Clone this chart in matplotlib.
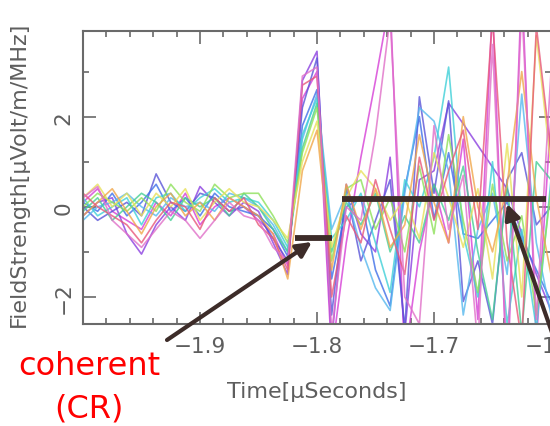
import matplotlib
matplotlib.use("Agg")
import matplotlib.pyplot as plt
from matplotlib.ticker import MultipleLocator, FuncFormatter

plt.rcParams['font.family'] = ['DejaVu Sans']

# sample times in microseconds (12.5 ns sampling)
time_us = [-2.0, -1.9875, -1.975, -1.9625, -1.95, -1.9375, -1.925, -1.9125,
           -1.9, -1.8875, -1.875, -1.8625, -1.85, -1.8375, -1.825, -1.8125,
           -1.8, -1.7875, -1.775, -1.7625, -1.75, -1.7375, -1.725, -1.7125,
           -1.7, -1.6875, -1.675, -1.6625, -1.65, -1.6375, -1.625, -1.6125, -1.6]

# field strength per antenna [uV/m/MHz]
ant_01 = [0.1, 0.4, -0.1, -0.3, -0.5, 0.1, -0.2, 0.3, -0.4, 0.0, 0.2, 0.0, -0.3, -0.6,
          -1.3, 2.4, 3.0, -3.3, -0.8, 1.1, 2.8, 4.6, -3.4, -1.0, 0.5, -0.8, 1.5, -2.5,
          4.5, -4.0, 5.0, -3.0, 2.0]
ant_02 = [-0.2, 0.1, 0.2, -0.6, -1.05, -0.4, 0.0, -0.3, 0.45, 0.1, -0.2, 0.1, -0.1, -0.8,
          -1.5, 2.8, 3.45, -3.0, 0.5, -0.6, -1.0, 1.1, -2.8, 0.6, 0.8, 2.3, 1.84, 1.36,
          0.88, 0.4, -0.6, -1.5, -2.3]
ant_03 = [0.0, -0.3, -0.1, 0.1, -0.2, 0.73, 0.1, -0.1, 0.3, 0.2, -0.1, 0.0, -0.2, -0.7,
          -1.2, 2.2, 3.3, -2.4, 0.4, -1.2, -0.3, 0.6, -2.7, 2.44, 0.3, 2.35, -2.1, -1.2,
          -2.6, 0.6, 1.2, -0.4, 0.0]
ant_04 = [0.1, -0.1, 0.3, -0.2, 0.1, 0.5, -0.1, 0.2, -0.2, 0.3, 0.0, -0.1, -0.2, -0.5,
          -1.1, 1.8, 2.6, -1.6, 0.0, 0.2, -1.4, -2.2, 0.4, 2.0, -0.27, 1.2, -0.6, -0.7,
          -0.3, 0.1, -0.7, -1.4, -2.1]
ant_05 = [-0.3, 0.0, 0.1, 0.3, 0.0, -0.2, 0.2, 0.0, 0.1, -0.1, 0.3, 0.2, 0.0, -0.4,
          -1.0, 1.5, 2.5, -0.5, 0.3, -0.9, -1.8, -2.3, 0.3, 2.2, 1.9, 0.8, -2.4, -0.5,
          0.3, -1.5, 2.5, -0.8, -2.4]
ant_06 = [0.2, -0.2, 0.0, 0.2, -0.4, 0.2, 0.3, -0.1, 0.2, 0.4, 0.1, 0.2, 0.1, -0.3,
          -0.9, 1.6, 2.4, -0.7, -0.3, 0.3, -0.8, -1.9, 0.6, 0.0, 1.1, 3.1, -0.6, -2.0,
          1.0, -2.6, -0.5, -2.7, 0.6]
ant_07 = [-0.1, 0.2, -0.3, 0.0, 0.3, 0.1, -0.3, 0.2, 0.0, 0.2, -0.2, 0.3, 0.0, -0.5,
          -1.0, 1.3, 2.3, -1.0, 0.1, -0.4, 0.3, -1.0, -0.2, -0.8, 0.5, -0.3, 0.9, -1.0,
          -2.5, 0.5, -2.8, 1.0, 0.6]
ant_08 = [0.0, 0.3, 0.1, -0.1, 0.2, -0.1, 0.5, 0.1, -0.1, 0.5, 0.2, 0.3, 0.3, -0.2,
          -0.8, 1.2, 2.2, -1.2, 0.4, 0.6, -0.5, 0.2, -1.0, 0.9, -0.6, 1.6, -0.3, -1.9,
          0.5, -1.2, -0.2, -2.4, 0.4]
ant_09 = [0.2, 0.5, 0.0, 0.3, -0.2, 0.3, 0.0, 0.4, -0.3, 0.1, 0.4, 0.1, 0.0, -0.3,
          -0.7, 1.0, 1.9, -0.9, 0.2, 0.8, 0.4, -0.3, 0.2, -0.7, 1.2, 0.2, -0.9, 0.4,
          -1.6, 1.4, -2.0, 3.8, 0.9]
ant_10 = [-0.2, 0.1, 0.4, -0.1, -0.6, 0.0, 0.3, -0.2, 0.1, -0.3, 0.2, 0.0, -0.2, -0.6,
          -1.6, 0.8, 1.7, -1.4, 0.5, -0.5, 0.4, -0.9, -0.4, 1.6, 0.1, -0.8, 2.0, 0.0,
          -1.0, 0.5, 3.0, 0.2, -1.5]
ant_11 = [0.3, 0.0, -0.2, -0.4, -0.8, -0.3, 0.1, 0.0, -0.5, 0.2, -0.1, 0.2, -0.4, -0.7,
          -1.4, 2.7, 2.9, -2.0, -0.2, -0.8, 0.6, -0.5, -1.5, 1.1, -0.3, 0.8, 1.7, -0.5,
          4.2, -0.8, -3.0, 4.0, 1.2]
ant_12 = [0.2, 0.45, -0.3, -0.6, -0.9, -0.5, -0.1, -0.3, -0.7, -0.3, 0.1, -0.2, -0.3, -0.9,
          -1.2, 2.9, 3.1, -2.8, 0.0, -0.3, 1.6, 4.2, -2.0, -2.6, 1.8, -0.5, 0.7, -3.1,
          3.6, -3.5, 4.5, -2.5, 3.0]

traces = [ant_01, ant_02, ant_03, ant_04, ant_05, ant_06,
          ant_07, ant_08, ant_09, ant_10, ant_11, ant_12]
colors = ["#d63fd6", "#8b3fe0", "#5a55d8", "#3f6fe8", "#56b8ee", "#3fd0d8",
          "#45cf95", "#8ee05a", "#e8e05a", "#f0a64a", "#e8587a", "#e070c8"]

x_ticks = [-1.9, -1.8, -1.7, -1.6]
y_ticks = [-2, 0, 2]

# level markers and arrow targets (data coordinates)
coherent_level = -0.69
coherent_span = (-1.8188, -1.7872)
coherent_tip = (-1.8043, -0.78)
incoherent_level = 0.178
incoherent_span = (-1.7786, -1.6043)
incoherent_tip = (-1.6376, 0.067)

ink = "#3d2c29"
axis_grey = "#6a6a6a"
text_grey = "#5e5e5e"

fig = plt.figure(figsize=(5.5, 4.27), dpi=100)
ax = fig.add_axes([83 / 550, 1 - 325 / 427, 468 / 550, 293 / 427])

for vals, c in zip(traces, colors):
    ax.plot(time_us, vals, color=c, lw=1.2, alpha=0.8)

ax.set_xlim(-2.0, -1.6)
ax.set_ylim(-2.6, 3.9)

ax.xaxis.set_major_locator(MultipleLocator(0.1))
ax.xaxis.set_minor_locator(MultipleLocator(0.02))
ax.yaxis.set_major_locator(MultipleLocator(2))
ax.yaxis.set_minor_locator(MultipleLocator(1))
ax.set_xticks(x_ticks)
ax.set_yticks(y_ticks)
minus = "\u2212"
ax.xaxis.set_major_formatter(FuncFormatter(lambda v, p: f"{v:.1f}".replace("-", minus)))
ax.yaxis.set_major_formatter(FuncFormatter(lambda v, p: f"{v:.0f}".replace("-", minus)))

ax.tick_params(which="both", direction="in", top=True, right=True,
               color=axis_grey, labelcolor=text_grey, labelsize=15.5, width=1.2)
ax.tick_params(which="major", length=9)
ax.tick_params(which="minor", length=4.5)
ax.tick_params(axis="x", pad=9)
ax.tick_params(axis="y", pad=7)
for lab in ax.get_yticklabels():
    lab.set_rotation(90)
    lab.set_va("center")
for s in ax.spines.values():
    s.set_color(axis_grey)
    s.set_linewidth(1.5)

ax.set_xlabel("Time[\u03bcSeconds]", fontsize=16, color=text_grey)
ax.xaxis.set_label_coords(0.5, -0.195)
ax.set_ylabel("FieldStrength[\u03bcVolt/m/MHz]", fontsize=16, color=text_grey)
ax.yaxis.set_label_coords(-0.115, 0.515)

# level bars
ax.plot(coherent_span, [coherent_level] * 2, color=ink, lw=4.2,
        solid_capstyle="butt", clip_on=False, zorder=5)
ax.plot(incoherent_span, [incoherent_level] * 2, color=ink, lw=4.2,
        solid_capstyle="butt", clip_on=False, zorder=5)

arrow_style = dict(arrowstyle="-|>,head_length=0.9,head_width=0.45",
                   color=ink, lw=3, shrinkA=0, shrinkB=0)
ax.annotate("", xy=coherent_tip, xycoords="data",
            xytext=(167, 86), textcoords="figure pixels",
            arrowprops=arrow_style, zorder=6, annotation_clip=False)
ax.annotate("", xy=incoherent_tip, xycoords="data",
            xytext=(556, 82), textcoords="figure pixels",
            arrowprops=arrow_style, zorder=6, annotation_clip=False)

fig.text(89 / 550, 52 / 427, "coherent", color="#ff0000", fontsize=23,
         ha="center", va="baseline")
fig.text(89 / 550, 9 / 427, "(CR)", color="#ff0000", fontsize=23,
         ha="center", va="baseline")

fig.savefig("out.png", dpi=100)
